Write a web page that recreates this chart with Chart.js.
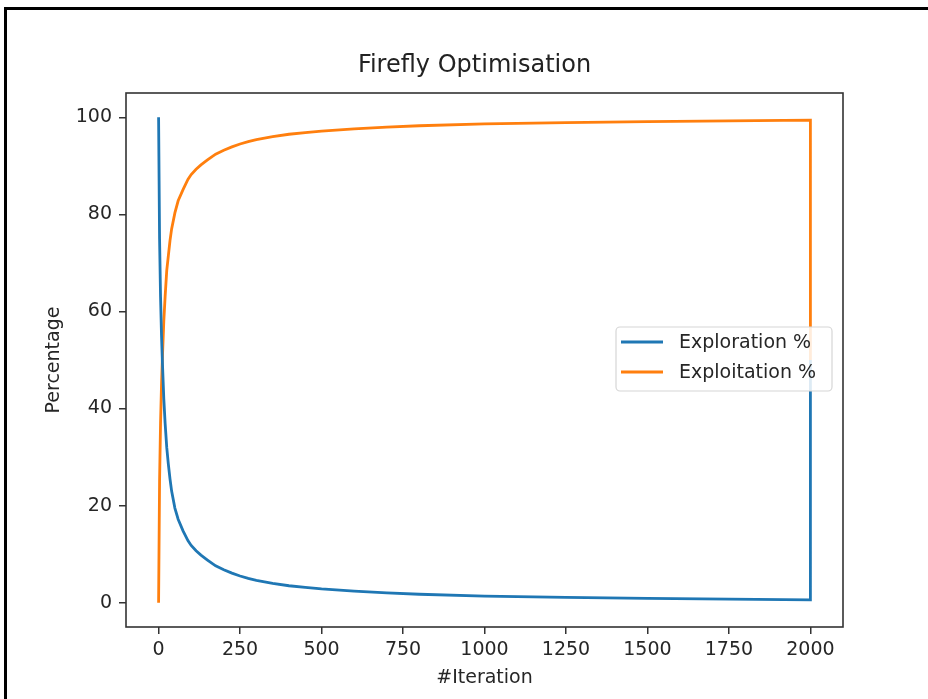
<!DOCTYPE html>
<html>
<head>
<meta charset="utf-8">
<script src="https://cdn.jsdelivr.net/npm/chart.js@4/dist/chart.umd.min.js"></script>
<style>
  html, body { margin: 0; padding: 0; background: #fff; }
  #wrap { position: relative; width: 928px; height: 699px; overflow: hidden; }
  #frame { position: absolute; left: 4px; top: 7px; width: 940px; height: 720px;
           border-left: 3px solid #000; border-top: 3px solid #000; pointer-events: none; }
  canvas { position: absolute; left: 0; top: 0; }
</style>
</head>
<body>
<div id="wrap">
  <canvas id="c" width="928" height="699"></canvas>
  <div id="frame"></div>
</div>
<script>
// Values
const iterations   = [0, 3, 6, 9, 12, 16, 20, 25, 30, 35, 40, 50, 60, 75, 90, 100, 115, 130, 150, 175, 200, 225, 250, 275, 300, 350, 400, 450, 500, 600, 700, 800, 1000, 1250, 1500, 1750, 2000, 2000];
const exploration  = [100, 75, 63, 55, 49, 42, 37, 32, 28.5, 25.5, 23, 19.5, 17.2, 14.8, 12.8, 11.8, 10.7, 9.8, 8.8, 7.6, 6.8, 6.1, 5.5, 5.0, 4.6, 4.0, 3.5, 3.15, 2.85, 2.4, 2.05, 1.75, 1.35, 1.1, 0.9, 0.75, 0.6, 50];
const exploitation = [0, 25, 37, 45, 51, 58, 63, 68.4, 71.5, 74.6, 77, 80.3, 82.8, 85.1, 87.2, 88.2, 89.3, 90.2, 91.2, 92.4, 93.2, 93.9, 94.5, 95.0, 95.4, 96.0, 96.5, 96.85, 97.15, 97.6, 97.95, 98.25, 98.65, 98.9, 99.1, 99.25, 99.4, 50];
const xTicks = [0, 250, 500, 750, 1000, 1250, 1500, 1750, 2000];
const yTicks = [0, 20, 40, 60, 80, 100];
const seriesLabels = ['Exploration %', 'Exploitation %'];
const seriesColors = ['#1f77b4', '#ff7f0e'];
const chartTitle = 'Firefly Optimisation';

const FONT = 'DejaVu Sans';

const frameAndLegend = {
  id: 'frameAndLegend',
  afterDraw(chart) {
    const { ctx, chartArea: a } = chart;
    ctx.save();
    ctx.fillStyle = '#222';
    ctx.font = '24px "' + FONT + '"';
    ctx.textAlign = 'center';
    ctx.textBaseline = 'middle';
    ctx.fillText(chartTitle, (a.left + a.right) / 2 - 10, 66);
    ctx.restore();
  },
  afterDatasetsDraw(chart) {
    const { ctx, chartArea: a } = chart;
    ctx.save();
    ctx.strokeStyle = '#333';
    ctx.lineWidth = 1.6;
    ctx.strokeRect(a.left, a.top, a.right - a.left, a.bottom - a.top);
    const bx = 616, by = 327, bw = 216, bh = 64, r = 4;
    ctx.beginPath();
    ctx.moveTo(bx + r, by);
    ctx.arcTo(bx + bw, by, bx + bw, by + bh, r);
    ctx.arcTo(bx + bw, by + bh, bx, by + bh, r);
    ctx.arcTo(bx, by + bh, bx, by, r);
    ctx.arcTo(bx, by, bx + bw, by, r);
    ctx.closePath();
    ctx.fillStyle = 'rgba(255,255,255,0.85)';
    ctx.fill();
    ctx.strokeStyle = '#d6d6d6';
    ctx.lineWidth = 1.2;
    ctx.stroke();
    chart.data.datasets.forEach((ds, i) => {
      const y = 342 + i * 30;
      ctx.beginPath();
      ctx.moveTo(621, y);
      ctx.lineTo(663, y);
      ctx.strokeStyle = ds.borderColor;
      ctx.lineWidth = 2.8;
      ctx.stroke();
      ctx.fillStyle = '#262626';
      ctx.font = '19px "' + FONT + '"';
      ctx.textBaseline = 'middle';
      ctx.textAlign = 'left';
      ctx.fillText(ds.label, 679, y + 1);
    });
    ctx.restore();
  }
};

const mk = (vals) => iterations.map((x, i) => ({ x: x, y: vals[i] }));

new Chart(document.getElementById('c'), {
  type: 'line',
  data: {
    datasets: [
      { label: seriesLabels[0], data: mk(exploration), borderColor: seriesColors[0], backgroundColor: seriesColors[0], borderWidth: 2.8, pointRadius: 0, tension: 0, fill: false },
      { label: seriesLabels[1], data: mk(exploitation), borderColor: seriesColors[1], backgroundColor: seriesColors[1], borderWidth: 2.8, pointRadius: 0, tension: 0, fill: false }
    ]
  },
  options: {
    responsive: false,
    animation: false,
    devicePixelRatio: 1,
    layout: { padding: { left: 0, right: 85, top: 93, bottom: 0 } },
    plugins: {
      legend: { display: false },
      tooltip: { enabled: false },
      title: { display: false }
    },
    scales: {
      x: {
        type: 'linear',
        min: -100, max: 2100,
        afterBuildTicks: (s) => { s.ticks = xTicks.map(v => ({ value: v })); },
        afterFit: (s) => { s.height = 72; },
        border: { display: false },
        grid: { display: true, drawOnChartArea: false, drawTicks: true, tickLength: 7, color: '#333', lineWidth: 1.5 },
        ticks: { color: '#262626', font: { family: FONT, size: 19 }, maxRotation: 0, autoSkip: false, padding: 5, callback: (v) => String(v) },
        title: { display: true, text: '#Iteration', color: '#262626', font: { family: FONT, size: 19 }, padding: { top: 0, bottom: 10 } }
      },
      y: {
        type: 'linear',
        min: -5, max: 105,
        afterBuildTicks: (s) => { s.ticks = yTicks.map(v => ({ value: v })); },
        afterFit: (s) => { s.width = 126; },
        border: { display: false },
        grid: { display: true, drawOnChartArea: false, drawTicks: true, tickLength: 7, color: '#333', lineWidth: 1.5 },
        ticks: { color: '#262626', font: { family: FONT, size: 19 }, autoSkip: false, padding: 7, callback: (v) => String(v) },
        title: { display: true, text: 'Percentage', color: '#262626', font: { family: FONT, size: 19 }, padding: { top: 43, bottom: 0 } }
      }
    }
  },
  plugins: [frameAndLegend]
});
</script>
</body>
</html>
